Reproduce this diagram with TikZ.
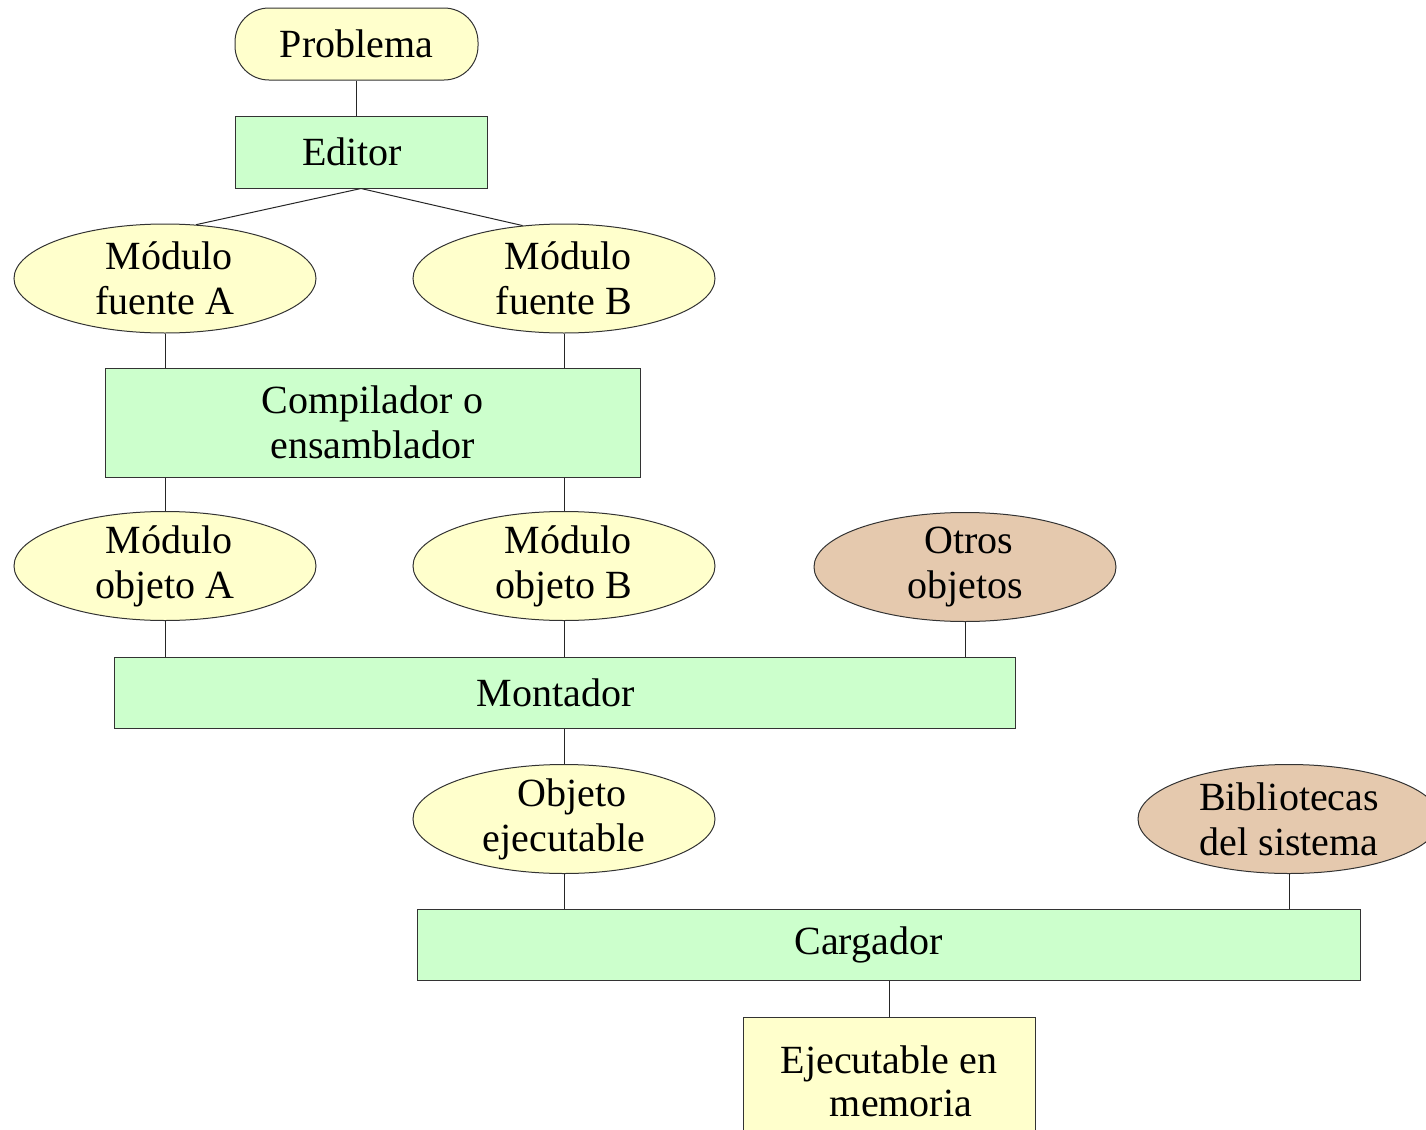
\documentclass[tikz,border=0pt]{standalone}
\usepackage{fontspec}
\setmainfont{Liberation Serif}
\usetikzlibrary{shapes.geometric}
\definecolor{yel}{HTML}{FFFFCC}
\definecolor{grn}{HTML}{CCFFCC}
\definecolor{tan}{HTML}{E5C9AE}
\definecolor{edge}{HTML}{333333}
\tikzset{
  base/.style={draw=edge, line width=0.5pt, inner sep=0pt, align=center,
    font=\fontsize{20pt}{22.5pt}\selectfont},
  ell/.style={base, ellipse, fill=yel, inner ysep=-10pt, minimum width=151pt, minimum height=54.5pt},
  tanell/.style={ell, fill=tan},
  proc/.style={base, rectangle, fill=grn},
  term/.style={base, rectangle, rounded corners=17pt, fill=yel, minimum width=121.5pt, minimum height=36pt},
  result/.style={base, rectangle, fill=yel},
  conn/.style={draw=black!85, line width=0.5pt}
}
\begin{document}
\begin{tikzpicture}[x=0.5pt, y=-0.5pt]
\useasboundingbox (0,0) rectangle (1426,1130);
\clip (0,0) rectangle (1426,1130);
% nodes
\node[term] (prob) at (356.5,44) {Problema};
\node[proc, minimum width=126pt, minimum height=36pt,
      label={[font=\fontsize{20pt}{22.5pt}\selectfont, xshift=-4.5pt]center:Editor}] (ed) at (361,152) {};
\node[ell] (fa) at (165,278.5) {\hspace*{4pt}Módulo\\fuente A};
\node[ell] (fb) at (564,278.5) {\hspace*{4pt}Módulo\\fuente B};
\node[proc, minimum width=267.5pt, minimum height=54.5pt] (comp) at (372.5,422.5) {Compilador o\\ensamblador};
\node[ell] (oa) at (165,566) {\hspace*{4pt}Módulo\\objeto A};
\node[ell] (ob) at (564,566) {\hspace*{4pt}Módulo\\objeto B};
\node[tanell] (otros) at (965,567) {\hspace*{4pt}Otros\\objetos};
\node[proc, minimum width=450.5pt, minimum height=35.5pt,
      label={[font=\fontsize{20pt}{22.5pt}\selectfont, xshift=-4.5pt]center:Montador}] (mont) at (564.5,692.5) {};
\node[ell] (oe) at (564,819) {\hspace*{8pt}Objeto\\ejecutable};
\node[tanell] (bib) at (1289,819) {Bibliotecas\\del sistema};
\node[proc, minimum width=471.5pt, minimum height=35.5pt,
      label={[font=\fontsize{20pt}{22.5pt}\selectfont, xshift=-10pt]center:Cargador}] (carg) at (888.5,944.5) {};
\node[result, minimum width=146pt, minimum height=64pt] (ejm) at (889,1081) {Ejecutable en\\[-1pt]\hspace*{12pt}memoria};
% connectors
\draw[conn] (prob.south) -- (prob.south |- ed.north);
\draw[conn] (ed.south) -- (fa.60);
\draw[conn] (ed.south) -- (fb.128);
\draw[conn] (fa.south) -- (fa.south |- comp.north);
\draw[conn] (fb.south) -- (fb.south |- comp.north);
\draw[conn] (oa.north |- comp.south) -- (oa.north);
\draw[conn] (ob.north |- comp.south) -- (ob.north);
\draw[conn] (oa.south) -- (oa.south |- mont.north);
\draw[conn] (ob.south) -- (ob.south |- mont.north);
\draw[conn] (otros.south) -- (otros.south |- mont.north);
\draw[conn] (oe.north |- mont.south) -- (oe.north);
\draw[conn] (oe.south) -- (oe.south |- carg.north);
\draw[conn] (bib.south) -- (bib.south |- carg.north);
\draw[conn] (ejm.north |- carg.south) -- (ejm.north);
\end{tikzpicture}
\end{document}
